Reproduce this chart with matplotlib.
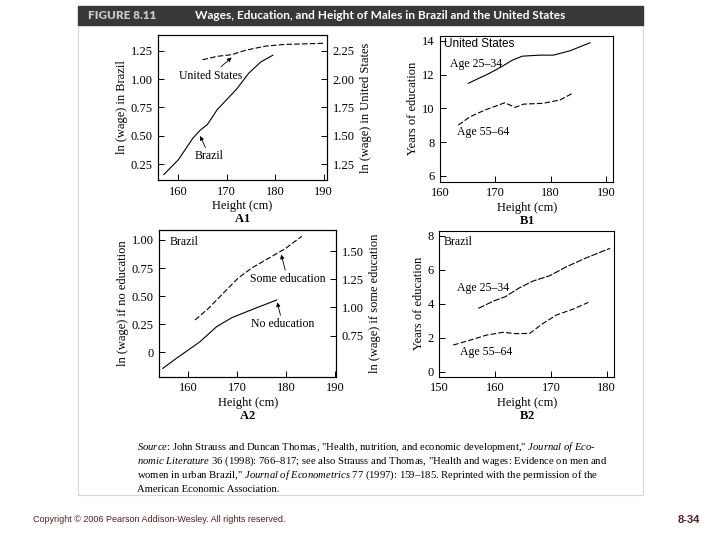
import matplotlib
matplotlib.use("Agg")
from matplotlib import pyplot as plt
from matplotlib.patches import Rectangle

plt.rcParams['font.family'] = 'Liberation Serif'
plt.rcParams['mathtext.fontset'] = 'custom'
plt.rcParams['mathtext.rm'] = 'Liberation Serif'
plt.rcParams['mathtext.it'] = 'Liberation Serif:italic'
plt.rcParams['mathtext.bf'] = 'Liberation Serif:bold'

# A1: ln(wage) vs height, Brazil (left axis) and United States (right axis)
a1_brazil_h = [157, 160, 163, 164.5, 166, 168, 170, 172, 174.5, 177, 179.5]
a1_brazil_w = [0.16, 0.29, 0.48, 0.55, 0.60, 0.73, 0.82, 0.91, 1.05, 1.15, 1.21]
a1_us_h = [165, 168, 171, 174, 178, 182, 186, 190]
a1_us_w = [2.17, 2.20, 2.215, 2.255, 2.29, 2.305, 2.31, 2.315]

# B1: US years of education
b1_young_h = [165.1, 168.9, 171.3, 173.1, 174.9, 178.1, 180.5, 183.5, 187.1]
b1_young_e = [11.48, 12.07, 12.5, 12.86, 13.09, 13.15, 13.15, 13.41, 13.88]
b1_old_h = [163.3, 165.4, 168.1, 171.7, 173.6, 175.1, 178.7, 181.7, 184.1]
b1_old_e = [9.01, 9.5, 9.9, 10.33, 10.06, 10.25, 10.3, 10.5, 10.92]

# A2: Brazil wages by education
a2_none_h = [154.8, 157.6, 160, 162.4, 165.8, 168.9, 170.6, 174.0, 178.1]
a2_none_w = [-0.143, -0.053, 0.02, 0.094, 0.228, 0.308, 0.338, 0.397, 0.466]
a2_some_h = [161.4, 164.1, 166.8, 170.2, 173.0, 176.4, 179.8, 183.2]
a2_some_w = [0.889, 0.99, 1.11, 1.26, 1.35, 1.435, 1.52, 1.63]

# B2: Brazil years of education
b2_young_h = [157.0, 159.7, 161.8, 164.2, 166.8, 169.8, 172.8, 176.4, 180.6]
b2_young_e = [3.73, 4.16, 4.41, 4.91, 5.34, 5.65, 6.18, 6.71, 7.26]
b2_old_h = [152.5, 155.5, 158.5, 161.4, 163.8, 166.2, 168.6, 171.0, 174.0, 176.7]
b2_old_e = [1.57, 1.86, 2.16, 2.32, 2.24, 2.26, 2.85, 3.34, 3.69, 4.08]

W, H = 720, 540
fig = plt.figure(figsize=(7.2, 5.4), dpi=100)


def px_axes(x0, y0, x1, y1):
    return fig.add_axes([x0 / W, 1 - y1 / H, (x1 - x0) / W, (y1 - y0) / H])


def style(ax):
    ax.tick_params(direction='in', length=4, width=0.7, labelsize=9, pad=4)
    for s in ax.spines.values():
        s.set_linewidth(0.8)


arrow = dict(arrowstyle='-|>', lw=0.6, mutation_scale=6, color='black',
             shrinkA=0, shrinkB=0)
solid = dict(color='black', lw=0.8)
dashed = dict(color='black', lw=0.8, dashes=(5, 2))

# ---- A1
ax = px_axes(158, 35, 327, 180)
ax.plot(a1_brazil_h, a1_brazil_w, **solid)
ax.set_xlim(155.8, 190.7)
ax.set_ylim(0.112, 1.388)
ax.set_xticks([160, 170, 180, 190])
ax.set_yticks([0.25, 0.5, 0.75, 1.0, 1.25])
ax.set_ylabel('ln (wage) in Brazil', fontsize=9, labelpad=2)
ax.set_xlabel('Height (cm)\n$\\bf{A1}$', fontsize=9, labelpad=2, linespacing=1.1)
style(ax)
ax.annotate('United States', xy=(171.0, 1.19), xytext=(166.7, 1.03),
            fontsize=8.5, ha='center', va='center', arrowprops=arrow)
ax.annotate('Brazil', xy=(164.5, 0.50), xytext=(166.4, 0.32),
            fontsize=8.5, ha='center', va='center', arrowprops=arrow)
ax2 = ax.twinx()
ax2.plot(a1_us_h, a1_us_w, **dashed)
ax2.set_ylim(1.112, 2.388)
ax2.set_yticks([1.25, 1.5, 1.75, 2.0, 2.25])
ax2.set_ylabel('ln (wage) in United States', fontsize=9, labelpad=4)
style(ax2)

# ---- B1
ax = px_axes(440, 35.7, 613.3, 181.7)
ax.plot(b1_young_h, b1_young_e, **solid)
ax.plot(b1_old_h, b1_old_e, **dashed)
ax.set_xlim(160, 191.3)
ax.set_ylim(5.66, 14.3)
ax.set_xticks([160, 170, 180, 190])
ax.set_yticks([6, 8, 10, 12, 14])
ax.set_ylabel('Years of education', fontsize=9, labelpad=2)
ax.set_xlabel('Height (cm)\n$\\bf{B1}$', fontsize=9, labelpad=2, linespacing=1.1)
style(ax)
ax.text(160.8, 13.8, 'United States', fontfamily='Liberation Sans', fontsize=8.5,
        ha='left', va='center')
ax.text(161.8, 12.6, 'Age 25–34', fontsize=8.5, ha='left', va='center')
ax.text(163.0, 8.6, 'Age 55–64', fontsize=8.5, ha='left', va='center')

# ---- A2
ax = px_axes(159.3, 230, 336, 376.7)
ax.plot(a2_none_h, a2_none_w, **solid)
ax.set_xlim(154.1, 190.2)
ax.set_ylim(-0.217, 1.089)
ax.set_xticks([160, 170, 180, 190])
ax.set_yticks([0, 0.25, 0.5, 0.75, 1.0])
ax.set_yticklabels(['0', '0.25', '0.50', '0.75', '1.00'])
ax.set_ylabel('ln (wage) if no education', fontsize=9, labelpad=2)
ax.set_xlabel('Height (cm)\n$\\bf{A2}$', fontsize=9, labelpad=2, linespacing=1.1)
style(ax)
ax.text(156.3, 0.985, 'Brazil', fontsize=8.5, ha='left', va='center')
ax.annotate('Some education', xy=(179.0, 0.87), xytext=(180.3, 0.653),
            fontsize=8.5, ha='center', va='center', arrowprops=arrow)
ax.annotate('No education', xy=(178.2, 0.445), xytext=(179.3, 0.251),
            fontsize=8.5, ha='center', va='center', arrowprops=arrow)
ax2 = ax.twinx()
ax2.plot(a2_some_h, a2_some_w, **dashed)
ax2.set_ylim(0.387, 1.686)
ax2.set_yticks([0.75, 1.0, 1.25, 1.5])
ax2.set_ylabel('ln (wage) if some education', fontsize=9, labelpad=4)
style(ax2)

# ---- B2
ax = px_axes(439.3, 231, 614, 376.7)
ax.plot(b2_young_h, b2_young_e, color='black', lw=0.8, dashes=(6, 1.5))
ax.plot(b2_old_h, b2_old_e, **dashed)
ax.set_xlim(150, 181.3)
ax.set_ylim(-0.29, 8.28)
ax.set_xticks([150, 160, 170, 180])
ax.set_yticks([0, 2, 4, 6, 8])
ax.set_ylabel('Years of education', fontsize=9, labelpad=2)
ax.set_xlabel('Height (cm)\n$\\bf{B2}$', fontsize=9, labelpad=2, linespacing=1.1)
style(ax)
ax.text(150.7, 7.65, 'Brazil', fontsize=8.5, ha='left', va='center')
ax.text(153.1, 4.9, 'Age 25–34', fontsize=8.5, ha='left', va='center')
ax.text(153.7, 1.18, 'Age 55–64', fontsize=8.5, ha='left', va='center')

# ---- frame, title bar and footer
fig.patches.append(Rectangle((78 / W, 1 - 495 / H), 565 / W, 470 / H,
                             transform=fig.transFigure, fill=False,
                             edgecolor='#d8d8d8', lw=0.8))
fig.patches.append(Rectangle((78 / W, 1 - 25 / H), 565 / W, 19 / H,
                             transform=fig.transFigure, color='#383838'))
fig.text(88 / W, 1 - 15.5 / H, 'FIGURE 8.11', color='#c8c8c8', fontsize=8.5,
         fontweight='heavy', fontfamily='Lato', va='center', ha='left')
fig.text(195 / W, 1 - 15.5 / H,
         'Wages, Education, and Height of Males in Brazil and the United States',
         color='white', fontsize=8.6, fontweight='bold', fontfamily='Lato',
         va='center', ha='left')

source_lines = [
    '$\\it{Source}$: John Strauss and Duncan Thomas, "Health, nutrition, and economic development," '
    '$\\it{Journal\\ of\\ Eco}$-',
    '$\\it{nomic\\ Literature}$ 36 (1998): 766–817; see also Strauss and Thomas, '
    '"Health and wages: Evidence on men and',
    'women in urban Brazil," $\\it{Journal\\ of\\ Econometrics}$ 77 (1997): 159–185. '
    'Reprinted with the permission of the',
    'American Economic Association.',
]
for i, line in enumerate(source_lines):
    fig.text(137 / W, 1 - (447 + i * 14.3) / H, line, fontsize=7.7,
             ha='left', va='center')

fig.text(33 / W, 1 - 520 / H, 'Copyright © 2006 Pearson Addison-Wesley. All rights reserved.',
         fontfamily='Liberation Sans', fontsize=6.5, color='#5a1e1e', ha='left', va='center')
fig.text(700 / W, 1 - 520 / H, '8-34', fontfamily='Liberation Sans', fontsize=8,
         fontweight='bold', color='#5a1e1e', ha='right', va='center')

fig.savefig('out.png', dpi=100)
